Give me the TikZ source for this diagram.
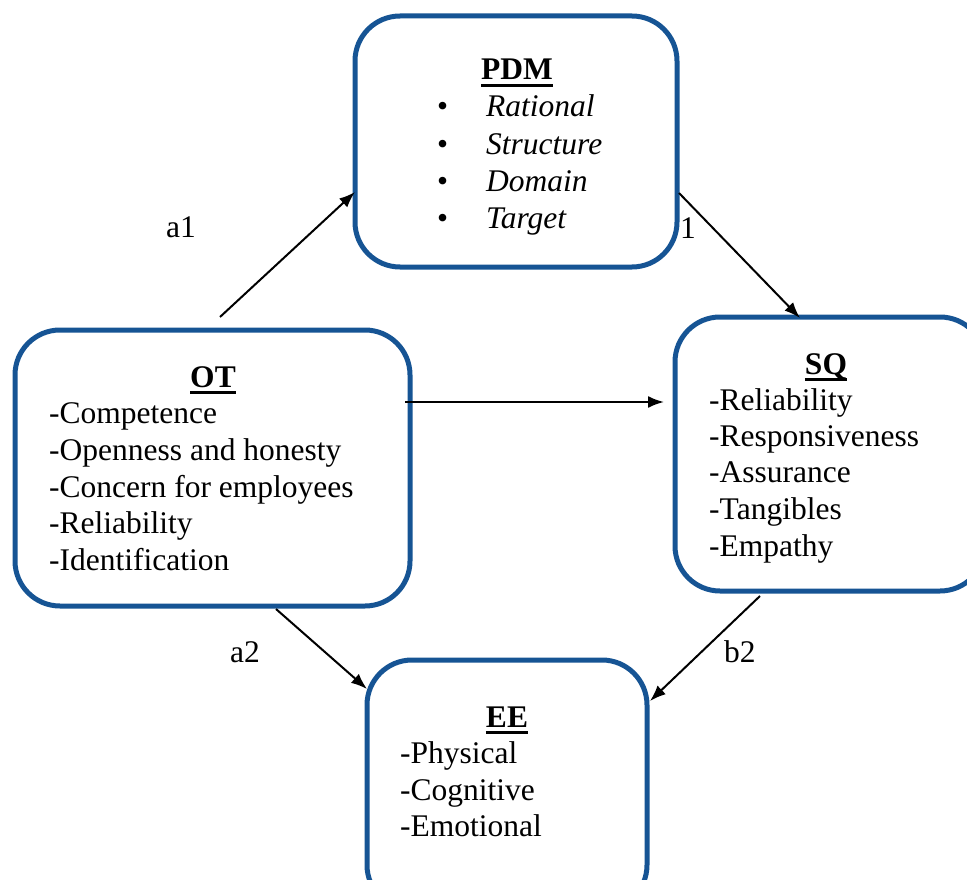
\documentclass[tikz,border=0pt]{standalone}
\usepackage{fontspec}
\setmainfont{Liberation Serif}
\usetikzlibrary{arrows.meta}
\definecolor{boxblue}{RGB}{22,84,148}
% underlined bold heading with a thick rule
\newcommand\headline[1]{\setbox0\hbox{\bfseries #1}\rlap{\rule[-7pt]{\wd0}{3pt}}\box0}
\begin{document}
\begin{tikzpicture}[x=1pt,y=-1pt,
  box/.style={draw=boxblue,line width=5pt,rounded corners=45pt,fill=white},
  txt/.style={font=\fontsize{31.5}{37}\selectfont,inner sep=0pt,anchor=base west},
  ttl/.style={font=\fontsize{31.5}{37}\selectfont,inner sep=0pt,anchor=base},
  link/.style={line width=2pt,-{Latex[length=16pt,width=12pt]}}]
\useasboundingbox (0,0) rectangle (967,880);
\clip (0,0) rectangle (967,880);

% boxes
\draw[box] (355,16) rectangle (677,267) coordinate (pdmbr);
\coordinate (pdmtl) at (355,16);
\draw[box] (15,330) rectangle (410,606);
\draw[box] (675,317) rectangle (985,591);
\draw[box] (367,660) rectangle (647,910);

% PDM contents
\node[ttl] (pdmt) at (517,80) {\headline{PDM}};
\foreach \y/\w [count=\i] in {117/Rational,155/Structure,192/Domain,228/Target}{
  \node[txt] (pdmb\i) at (437,\y) {•};
  \node[txt] (pdmi\i) at (486,\y) {\itshape \w};
}

% OT contents
\node[ttl] (ott) at (213,387) {\headline{OT}};
\foreach \y/\w [count=\i] in {423/Competence,460/Openness and honesty,497/Concern for employees,533/Reliability,570/Identification}{
  \node[txt] (oti\i) at (49,\y) {-\w};
}

% SQ contents
\node[ttl] (sqt) at (826,374) {\headline{SQ}};
\foreach \y/\w [count=\i] in {410/Reliability,446/Responsiveness,482/Assurance,519/Tangibles,556/Empathy}{
  \node[txt] (sqi\i) at (709,\y) {-\w};
}

% EE contents
\node[ttl] (eet) at (507,727) {\headline{EE}};
\foreach \y/\w [count=\i] in {763/Physical,800/Cognitive,836/Emotional}{
  \node[txt] (eei\i) at (400,\y) {-\w};
}

% connector end points
\coordinate (a1s) at (220,317);
\coordinate (a1e) at (355,192);
\coordinate (b1s) at (679,193);
\coordinate (b1e) at (800,318);
\coordinate (cs) at (405,402);
\coordinate (ce) at (664,402);
\coordinate (a2s) at (276,609);
\coordinate (a2e) at (367,689);
\coordinate (b2s) at (760,596);
\coordinate (b2e) at (650,701);

\draw[link] (a1s) -- (a1e);
\draw[link] (b1s) -- (b1e);
\draw[link] (cs) -- (ce);
\draw[link] (a2s) -- (a2e);
\draw[link] (b2s) -- (b2e);

% path labels
\node[txt] (la1) at (166,237) {a1};
\node[txt] (lb1) at (680,238) {1};
\node[txt] (la2) at (230,662) {a2};
\node[txt] (lb2) at (724,662) {b2};
\end{tikzpicture}
\end{document}
